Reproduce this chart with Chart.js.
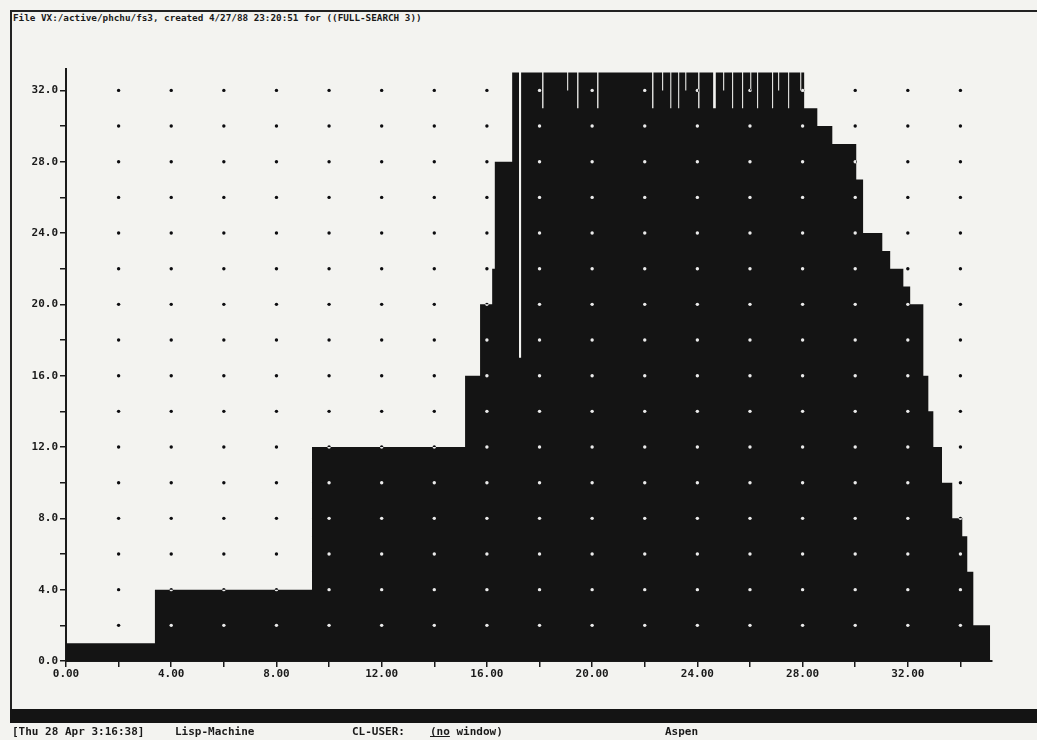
<!DOCTYPE html>
<html lang="en">
<head>
<meta charset="UTF-8">
<title>FULL-SEARCH 3 - active processes</title>
<style>
    body {
        margin: 0;
        background-color: #f3f3f0;
        font-family: "DejaVu Sans Mono", monospace;
        font-weight: bold;
        color: #1a1a1a;
    }
    #page {
        position: relative;
        width: 1037px;
        height: 740px;
        overflow: hidden;
    }
    #frame {
        position: absolute;
        left: 10px;
        top: 10px;
        width: 1040px;
        height: 702px;
        border-top: 2px solid #222;
        border-left: 2px solid #222;
        box-sizing: border-box;
    }
    #title {
        position: absolute;
        left: 13px;
        top: 12px;
        font-size: 9.3px;
        white-space: pre;
    }
    #bar {
        position: absolute;
        left: 10px;
        top: 709px;
        width: 1027px;
        height: 14px;
        background-color: #141414;
    }
    .st {
        position: absolute;
        top: 725px;
        font-size: 11px;
        white-space: pre;
    }
    canvas {
        position: absolute;
        left: 0;
        top: 0;
    }
</style>
<script src="https://cdn.jsdelivr.net/npm/chart.js"></script>
</head>
<body>
<div id="page">
    <div id="frame"></div>
    <div id="title">File VX:/active/phchu/fs3, created 4/27/88 23:20:51 for ((FULL-SEARCH 3))</div>
    <canvas id="chart" width="1037" height="740"></canvas>
    <div id="bar"></div>
    <span class="st" style="left:12px">[Thu 28 Apr 3:16:38]</span>
    <span class="st" style="left:175px">Lisp-Machine</span>
    <span class="st" style="left:352px">CL-USER:</span>
    <span class="st" style="left:430px"><u>(no</u> window)</span>
    <span class="st" style="left:665px">Aspen</span>
</div>
<script>
    // time at which the count changes, and the count from there on
    var timeX = [
        0, 3.38, 9.35, 15.17, 15.74, 16.2, 16.3, 16.96,
        17.22, 17.30, 18.10, 18.15, 19.05, 19.09, 19.43, 19.48, 20.19, 20.24,
        22.28, 22.33, 22.66, 22.70, 22.97, 23.01, 23.27, 23.31, 23.54, 23.58,
        24.03, 24.08, 24.60, 24.70, 24.98, 25.02, 25.32, 25.36, 25.70, 25.74,
        26.01, 26.05, 26.27, 26.31, 26.84, 26.88, 27.07, 27.11, 27.45, 27.49,
        27.91, 27.95,
        28.06, 28.56, 29.13, 30.04, 30.30, 31.03, 31.33, 31.83, 32.09, 32.59,
        32.78, 32.97, 33.30, 33.69, 34.07, 34.26, 34.49, 35.13
    ];
    var procCount = [
        1, 4, 12, 16, 20, 22, 28, 33,
        17, 33, 31, 33, 32, 33, 31, 33, 31, 33,
        31, 33, 32, 33, 31, 33, 31, 33, 32, 33,
        31, 33, 31, 33, 32, 33, 31, 33, 31, 33,
        32, 33, 31, 33, 31, 33, 32, 33, 31, 33,
        32, 33,
        31, 30, 29, 27, 24, 23, 22, 21, 20, 16,
        14, 12, 10, 8, 7, 5, 2, 0
    ];
    var xTicks = { min: 0, max: 35.2, step: 2, labelEvery: 4 };
    var yTicks = { min: 0, max: 33.2, step: 2, labelEvery: 4 };

    var paper = '#f3f3f0';
    var ink = '#141414';

    var points = [];
    for (var i = 0; i < timeX.length; i++) {
        points.push({ x: timeX[i], y: procCount[i] });
    }

    function keepSteps(scale) {
        scale.ticks = scale.ticks.filter(function (t) { return t.value % 2 === 0; });
    }

    // paper under the plot, then the dotted grid inverted over the black fill
    var dotGrid = {
        id: 'dotGrid',
        beforeDraw: function (chart) {
            var a = chart.chartArea;
            var c = chart.ctx;
            c.save();
            c.fillStyle = paper;
            c.fillRect(a.left, a.top, a.right - a.left, a.bottom - a.top);
            c.restore();
        },
        afterDatasetsDraw: function (chart) {
            var c = chart.ctx;
            var xs = chart.scales.x, ys = chart.scales.y;
            c.save();
            c.globalCompositeOperation = 'difference';
            c.fillStyle = '#ffffff';
            xs.ticks.forEach(function (tx) {
                if (tx.value <= 0) return;
                ys.ticks.forEach(function (ty) {
                    if (ty.value <= 0) return;
                    var px = xs.getPixelForValue(tx.value);
                    var py = ys.getPixelForValue(ty.value);
                    c.beginPath();
                    c.arc(px, py, 1.7, 0, Math.PI * 2);
                    c.fill();
                });
            });
            c.restore();
        }
    };

    Chart.defaults.font.family = '"DejaVu Sans Mono", monospace';
    Chart.defaults.font.weight = 'bold';
    Chart.defaults.font.size = 11;
    Chart.defaults.color = '#1a1a1a';

    new Chart(document.getElementById('chart'), {
        type: 'line',
        data: {
            datasets: [{
                data: points,
                stepped: true,
                fill: 'origin',
                backgroundColor: ink,
                borderColor: ink,
                borderWidth: 0,
                pointRadius: 0
            }]
        },
        options: {
            responsive: false,
            animation: false,
            layout: { padding: { top: 69, right: 45, left: 0, bottom: 0 } },
            plugins: { legend: { display: false }, tooltip: { enabled: false } },
            scales: {
                x: {
                    type: 'linear',
                    min: xTicks.min,
                    max: xTicks.max,
                    afterBuildTicks: keepSteps,
                    afterFit: function (s) { s.height = 79; },
                    border: { display: true, color: '#1a1a1a', width: 2 },
                    grid: { display: true, drawOnChartArea: false, tickLength: 6, color: '#1a1a1a', lineWidth: 1.5 },
                    ticks: {
                        stepSize: xTicks.step,
                        includeBounds: false,
                        autoSkip: false,
                        maxRotation: 0,
                        padding: 1,
                        callback: function (v) { return v % xTicks.labelEvery === 0 ? v.toFixed(2) : ''; }
                    }
                },
                y: {
                    min: yTicks.min,
                    max: yTicks.max,
                    afterBuildTicks: keepSteps,
                    afterFit: function (s) { s.width = 66; },
                    border: { display: true, color: '#1a1a1a', width: 2 },
                    grid: { display: true, drawOnChartArea: false, tickLength: 6, color: '#1a1a1a', lineWidth: 1.5 },
                    ticks: {
                        stepSize: yTicks.step,
                        includeBounds: false,
                        autoSkip: false,
                        padding: 2,
                        callback: function (v) { return v % yTicks.labelEvery === 0 ? v.toFixed(1) : ''; }
                    }
                }
            }
        },
        plugins: [dotGrid]
    });
</script>
</body>
</html>
